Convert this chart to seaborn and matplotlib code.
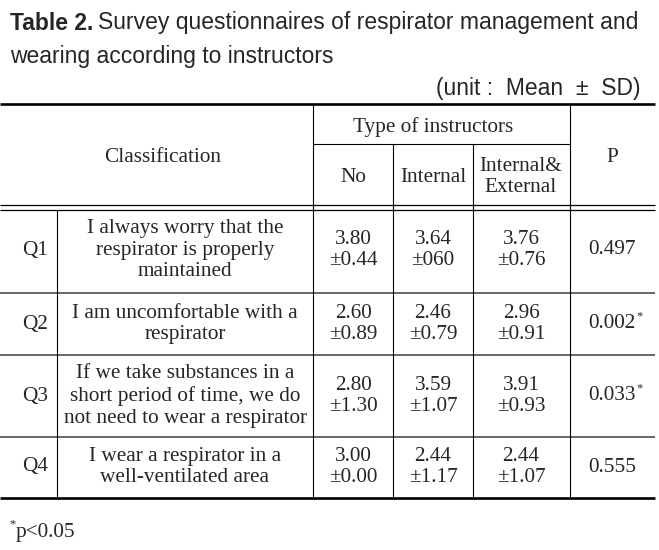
import matplotlib.pyplot as plt
import seaborn as sns

# table content
questions = ["Q1", "Q2", "Q3", "Q4"]
statements = [
    "I always worry that the\nrespirator is properly\nmaintained",
    "I am uncomfortable with a\nrespirator",
    "If we take substances in a\nshort period of time, we do\nnot need to wear a respirator",
    "I wear a respirator in a\nwell-ventilated area",
]
group_labels = ["No", "Internal", "Internal&\nExternal"]
mean_no = ["3.80", "2.60", "2.80", "3.00"]
sd_no = ["±0.44", "±0.89", "±1.30", "±0.00"]
mean_internal = ["3.64", "2.46", "3.59", "2.44"]
sd_internal = ["±060", "±0.79", "±1.07", "±1.17"]
mean_both = ["3.76", "2.96", "3.91", "2.44"]
sd_both = ["±0.76", "±0.91", "±0.93", "±1.07"]
p_values = ["0.497", "0.002", "0.033", "0.555"]
significant = [False, True, True, False]

sns.set_theme(style="white")
SERIF = ["Liberation Serif", "DejaVu Serif"]
SANS = ["Liberation Sans", "DejaVu Sans"]

fig = plt.figure(figsize=(6.59, 5.5), dpi=100)
ax = fig.add_axes([0, 0, 1, 1])
ax.set_xlim(0, 659)
ax.set_ylim(550, 0)
ax.axis("off")

# title
tfs = 16.5
t1 = ax.text(10, 23, "Table 2.", fontsize=tfs, fontweight="bold", family=SANS, va="center", ha="left")
fig.canvas.draw()
r = fig.canvas.get_renderer()
bb = t1.get_window_extent(r)
x_after = ax.transData.inverted().transform((bb.x1, bb.y0))[0]
ax.text(x_after + 5, 23, "Survey questionnaires of respirator management and",
        fontsize=tfs, family=SANS, va="center", ha="left")
ax.text(10, 56, "wearing according to instructors", fontsize=tfs, family=SANS, va="center", ha="left")
ax.text(641, 89, "(unit :  Mean  ±  SD)", fontsize=tfs, family=SANS, va="center", ha="right")

# column layout (pixels)
x_q, x_stmt = 35, 185
col_x = [353, 433, 521]
x_p = 612
row_y = [250, 324, 396, 467]
row_edges = [293, 355, 437]

# rules
ax.hlines([104, 498], 0, 655, color="black", lw=1.9)
ax.hlines([205, 209.5], 0, 655, color="black", lw=0.9)
ax.hlines(144, 313, 570, color="black", lw=0.8)
ax.hlines(row_edges, 0, 655, color="#666666", lw=1.4)
ax.vlines([313, 570], 104, 498, color="black", lw=0.8)
ax.vlines([393, 473], 144, 498, color="black", lw=0.8)
ax.vlines(57, 209.5, 498, color="black", lw=0.8)

fs = 15.3
ls = 1.2
ax.text(433, 127, "Type of instructors", fontsize=fs, family=SERIF, ha="center", va="center")
ax.text(163, 158, "Classification", fontsize=fs, family=SERIF, ha="center", va="center")
ax.text(x_p, 158, "P", fontsize=fs, family=SERIF, ha="center", va="center")
for cx, lab in zip(col_x, group_labels):
    ax.text(cx, 177, lab, fontsize=fs, family=SERIF, ha="center", va="center", linespacing=ls)

for i, y in enumerate(row_y):
    ax.text(x_q, y, questions[i], fontsize=fs, family=SERIF, ha="center", va="center")
    ax.text(x_stmt, y, statements[i], fontsize=fs, family=SERIF, ha="center", va="center", linespacing=ls)
    for cx, m, s in zip(col_x, [mean_no, mean_internal, mean_both], [sd_no, sd_internal, sd_both]):
        ax.text(cx, y, m[i] + "\n" + s[i], fontsize=fs, family=SERIF, ha="center", va="center", linespacing=ls)
    pt = ax.text(x_p, y, p_values[i], fontsize=fs, family=SERIF, ha="center", va="center")
    if significant[i]:
        ax.annotate("*", xy=(1.0, 1.0), xycoords=pt, xytext=(0.5, 3), textcoords="offset points",
                    fontsize=9, family=SERIF, ha="left", va="top")

fn = ax.text(16, 532, "p<0.05", fontsize=fs, family=SERIF, ha="left", va="center")
ax.annotate("*", xy=(0.0, 1.0), xycoords=fn, xytext=(-0.5, 3), textcoords="offset points",
            fontsize=9, family=SERIF, ha="right", va="top")

fig.savefig("out.png", dpi=100)
